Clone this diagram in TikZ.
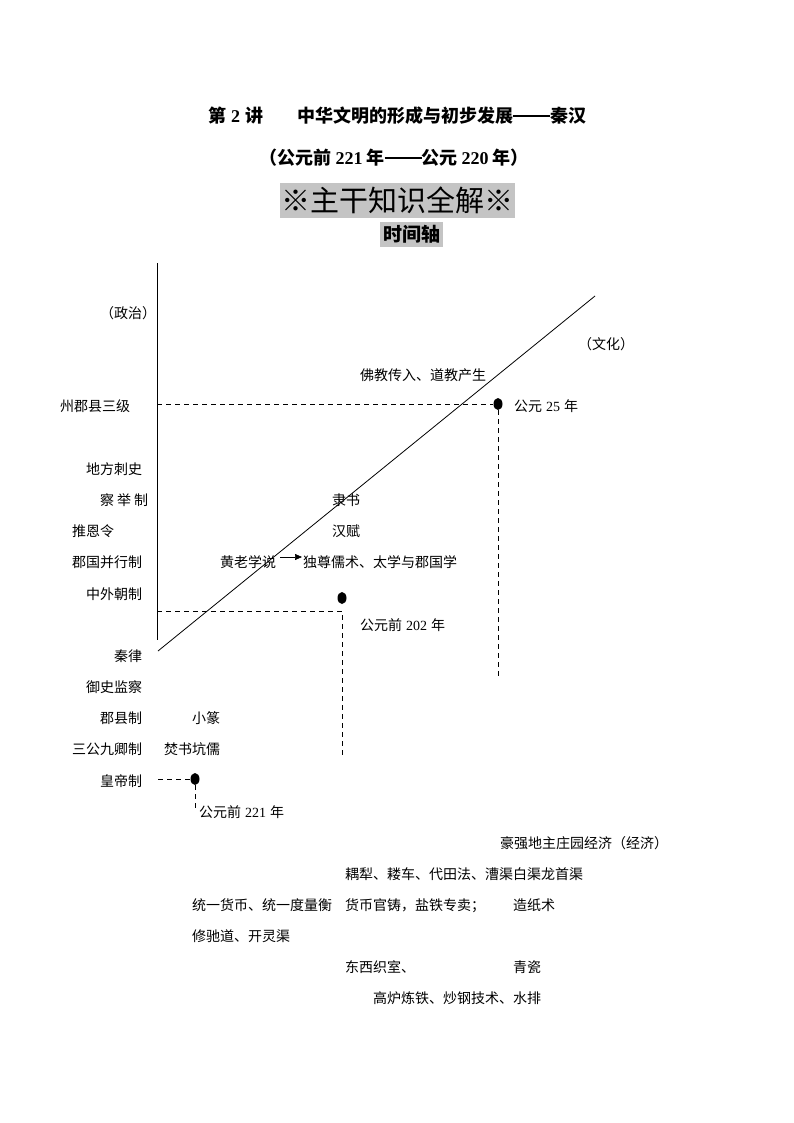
\documentclass[tikz,border=0pt]{standalone}
\usepackage{fontspec}
\setmainfont{Liberation Serif}
\newfontfamily\cjk{Noto Sans CJK SC}
\usetikzlibrary{arrows.meta,shapes.geometric}
\definecolor{boxgray}{HTML}{C4C4C4}
\newcommand{\longdash}{\rule[6.2pt]{37pt}{1.2pt}}
\begin{document}
\begin{tikzpicture}[x=1pt,y=-1pt,
  lbl/.style={anchor=west, inner sep=0pt, font=\cjk\fontsize{14}{16}\selectfont, text height=12.3pt, text depth=1.7pt},
  ttl/.style={inner sep=0pt, font=\cjk\bfseries\fontsize{18}{20}\selectfont, text height=15.8pt, text depth=2.2pt},
  axisline/.style={line width=0.8pt},
  guide/.style={line width=0.7pt, dash pattern=on 5pt off 4pt},
  tdot/.style={ellipse, fill=black, minimum width=9pt, minimum height=12pt, inner sep=0pt},
  ]
\useasboundingbox[fill=white] (0,0) rectangle (794,1123);

% titles
\node[ttl, anchor=west] (t1a) at (208,116) {第\hspace{5pt}{\rmfamily 2}\hspace{5pt}讲};
\node[ttl, anchor=west] (t1b) at (297,116) {中华文明的形成与初步发展\longdash 秦汉};
\node[ttl] (t2) at (394,158) {（公元前\hspace{4pt}{\rmfamily 221}\hspace{4pt}年\longdash 公元\hspace{4pt}{\rmfamily 220}\hspace{4pt}年）};
\node[fill=boxgray, minimum width=235pt, minimum height=35pt, inner sep=0pt, font=\cjk\fontsize{29}{31}\selectfont] (t3) at (397.5,200.5) {※主干知识全解※};
\node[fill=boxgray, minimum width=63pt, minimum height=25pt, inner sep=0pt, font=\cjk\bfseries\fontsize{19}{21}\selectfont] (t4) at (411.5,234.5) {时间轴};

% axes
\coordinate (vtop) at (157,263);
\coordinate (vbot) at (157,640);
\draw[axisline] (vtop) -- (vbot);
\coordinate (dstart) at (158,651);
\coordinate (dend) at (595,296);
\draw[axisline] (dstart) -- (dend);

% dots and guides
\node[tdot] (d25) at (498,404) {};
\node[tdot] (d202) at (342,598) {};
\node[tdot] (d221) at (195,779) {};
\coordinate (h25) at (157,404);
\coordinate (v25) at (498,680);
\draw[guide] (h25) -- (d25);
\draw[guide] (d25) -- (v25);
\coordinate (h202) at (157,611);
\coordinate (c202) at (342,611);
\coordinate (v202) at (342,757);
\draw[guide] (h202) -- (c202) -- (v202);
\coordinate (h221) at (158,779);
\coordinate (v221) at (195,808);
\draw[guide] (h221) -- (d221);
\draw[guide] (d221) -- (v221);

% left labels (politics)
\node[lbl] (zz) at (100,313) {（政治）};
\node[lbl] (l1) at (60,406) {州郡县三级};
\node[lbl] (l2) at (86,469) {地方刺史};
\node[lbl] (l3) at (100,500) {察\hspace{3pt}举\hspace{3pt}制};
\node[lbl] (l4) at (72,531) {推恩令};
\node[lbl] (l5) at (72,562) {郡国并行制};
\node[lbl] (l6) at (86,594) {中外朝制};
\node[lbl] (l7) at (114,656) {秦律};
\node[lbl] (l8) at (86,687) {御史监察};
\node[lbl] (l9) at (100,718) {郡县制};
\node[lbl] (l10) at (72,749) {三公九卿制};
\node[lbl] (l11) at (100,781) {皇帝制};

% culture
\node[lbl] (wh) at (578,344) {（文化）};
\node[lbl] (c1) at (360,375) {佛教传入、道教产生};
\node[lbl] (y25) at (514,406) {公元\hspace{4pt}{\rmfamily 25}\hspace{4pt}年};
\node[lbl] (c2) at (332,500) {隶书};
\node[lbl] (c3) at (332,531) {汉赋};
\node[lbl] (hl) at (220,562) {黄老学说};
\node[lbl] (dz) at (303,562) {独尊儒术、太学与郡国学};
\draw[-{Triangle[length=7pt,width=6pt]}, line width=0.7pt, shorten <=4pt, shorten >=1pt] ([yshift=5pt]hl.east) -- ([yshift=5pt]dz.west);
\node[lbl] (y202) at (360,625) {公元前\hspace{4pt}{\rmfamily 202}\hspace{4pt}年};
\node[lbl] (c4) at (192,718) {小篆};
\node[lbl] (c5) at (164,749) {焚书坑儒};
\node[lbl] (y221) at (199,812) {公元前\hspace{4pt}{\rmfamily 221}\hspace{4pt}年};

% economy
\node[lbl] (e0) at (500,843) {豪强地主庄园经济（经济）};
\node[lbl] (e1) at (345,874) {耦犁、耧车、代田法、漕渠白渠龙首渠};
\node[lbl] (e2) at (192,905) {统一货币、统一度量衡};
\node[lbl] (e3) at (345,905) {货币官铸，盐铁专卖；};
\node[lbl] (e4) at (513,905) {造纸术};
\node[lbl] (e5) at (192,936) {修驰道、开灵渠};
\node[lbl] (e6) at (345,967) {东西织室、};
\node[lbl] (e7) at (513,967) {青瓷};
\node[lbl] (e8) at (373,998) {高炉炼铁、炒钢技术、水排};
\end{tikzpicture}
\end{document}
